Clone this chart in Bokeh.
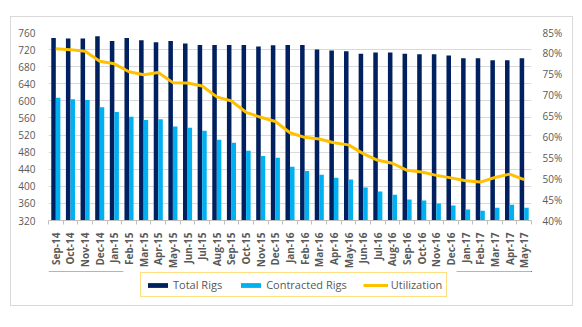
from bokeh.plotting import figure
from bokeh.layouts import column
from bokeh.models import (Range1d, LinearAxis, FixedTicker, NumeralTickFormatter, Grid,
                          ColumnDataSource, Legend, LegendItem)
from bokeh.transform import dodge
from bokeh.embed import file_html
from bokeh.resources import INLINE

months = ["Sep-14", "Oct-14", "Nov-14", "Dec-14", "Jan-15", "Feb-15", "Mar-15", "Apr-15",
          "May-15", "Jun-15", "Jul-15", "Aug-15", "Sep-15", "Oct-15", "Nov-15", "Dec-15",
          "Jan-16", "Feb-16", "Mar-16", "Apr-16", "May-16", "Jun-16", "Jul-16", "Aug-16",
          "Sep-16", "Oct-16", "Nov-16", "Dec-16", "Jan-17", "Feb-17", "Mar-17", "Apr-17",
          "May-17"]
total_rigs = [747, 746, 746, 751, 740, 747, 742, 737, 740, 734, 731, 731, 731, 731, 727, 730,
              731, 731, 720, 718, 716, 710, 713, 713, 710, 709, 709, 706, 700, 700, 695, 695, 700]
contracted_rigs = [607, 604, 602, 585, 574, 563, 555, 557, 540, 537, 530, 509, 502, 483, 471, 467,
                   446, 436, 427, 420, 416, 397, 388, 380, 369, 367, 360, 355, 346, 343, 350, 357, 350]
utilization = [81.1, 80.9, 80.5, 78.1, 77.5, 75.6, 74.9, 75.4, 73.0, 72.9, 72.2, 69.6, 68.6,
               65.9, 64.7, 63.7, 61.0, 59.9, 59.5, 58.6, 58.1, 56.0, 54.4, 53.7, 52.0, 51.6,
               50.8, 50.2, 49.5, 49.2, 50.3, 51.1, 49.8]
series_names = ["Total Rigs", "Contracted Rigs", "Utilization"]
left_ticks = [320, 360, 400, 440, 480, 520, 560, 600, 640, 680, 720, 760]
right_ticks = [0.40, 0.45, 0.50, 0.55, 0.60, 0.65, 0.70, 0.75, 0.80, 0.85]

n = len(months)
idx = list(range(n))
src = ColumnDataSource(dict(
    x=idx,
    total=total_rigs,
    contracted=contracted_rigs,
    util=[u / 100 for u in utilization],
))

FONT = "Open Sans"
GREY = "#595959"
NAVY = "#002060"
CYAN = "#00B0F0"
GOLD = "#FFC000"

p = figure(width=561, height=254, output_backend="svg", toolbar_location=None,
           x_range=Range1d(-0.5, n - 0.5), y_range=Range1d(320, 760),
           min_border_left=37, min_border_right=41, min_border_top=15, min_border_bottom=50,
           x_axis_type=None, y_axis_type=None)
p.outline_line_color = None
p.background_fill_color = "white"
p.border_fill_color = "white"
p.extra_y_ranges = {"util": Range1d(0.40, 0.85)}

# left axis
yl = LinearAxis(ticker=FixedTicker(ticks=left_ticks, minor_ticks=[]))
yl.axis_line_color = None
yl.major_tick_line_color = None
yl.minor_tick_line_color = None
yl.major_tick_out = 0
yl.minor_tick_out = 0
yl.major_label_standoff = 13
yl.major_label_text_font = FONT
yl.major_label_text_font_size = "10px"
yl.major_label_text_color = GREY
p.add_layout(yl, "left")

# right axis
yr = LinearAxis(y_range_name="util", ticker=FixedTicker(ticks=right_ticks, minor_ticks=[]),
                formatter=NumeralTickFormatter(format="0%"))
yr.axis_line_color = None
yr.major_tick_line_color = None
yr.minor_tick_line_color = None
yr.major_tick_out = 0
yr.minor_tick_out = 0
yr.major_label_standoff = 11
yr.major_label_text_font = FONT
yr.major_label_text_font_size = "10px"
yr.major_label_text_color = GREY
p.add_layout(yr, "right")

# bottom axis
xa = LinearAxis(ticker=FixedTicker(ticks=idx, minor_ticks=[i - 0.5 for i in range(n + 1)]))
xa.major_label_overrides = {i: m for i, m in enumerate(months)}
xa.major_label_orientation = 3.14159265 / 2
xa.axis_line_color = "#BFBFBF"
xa.major_tick_line_color = None
xa.major_tick_out = 0
xa.minor_tick_line_color = "#BFBFBF"
xa.minor_tick_out = 4
xa.minor_tick_in = 0
xa.major_label_standoff = 8
xa.major_label_text_font = FONT
xa.major_label_text_font_style = "bold"
xa.major_label_text_font_size = "10px"
xa.major_label_text_color = GREY
p.add_layout(xa, "below")

g = Grid(dimension=1, ticker=FixedTicker(ticks=left_ticks), grid_line_color="#D9D9D9",
         grid_line_width=1)
p.add_layout(g)

bw = 0.31
r_total = p.vbar(x=dodge("x", -0.155), top="total", bottom=320, width=bw, source=src,
                 color=NAVY, line_color=None)
r_con = p.vbar(x=dodge("x", 0.155), top="contracted", bottom=320, width=bw, source=src,
               color=CYAN, line_color=None)
r_util = p.line(x="x", y="util", source=src, y_range_name="util", line_color=GOLD,
                line_width=3, line_join="round")

# legend strip below the chart: same series and styles, drawn out of its visible range
lg = figure(width=561, height=34, output_backend="svg", toolbar_location=None,
            x_range=Range1d(0, 1), y_range=Range1d(-2, -1),
            min_border_left=0, min_border_right=0, min_border_top=0, min_border_bottom=0,
            x_axis_type=None, y_axis_type=None)
lg.outline_line_color = None
lg.grid.visible = False
lg.background_fill_color = "white"
lg.border_fill_color = "white"
l_total = lg.vbar(x="x", top="total", bottom=320, width=bw, source=src, color=NAVY,
                  line_color=None)
l_con = lg.vbar(x="x", top="contracted", bottom=320, width=bw, source=src, color=CYAN,
                line_color=None)
l_util = lg.line(x="x", y="util", source=src, line_color=GOLD, line_width=3)

legend = Legend(items=[LegendItem(label=series_names[0], renderers=[l_total]),
                       LegendItem(label=series_names[1], renderers=[l_con]),
                       LegendItem(label=series_names[2], renderers=[l_util])],
                orientation="horizontal", location=(92, 8))
legend.glyph_width = 25
legend.glyph_height = 6
legend.label_height = 6
legend.label_standoff = 3
legend.spacing = 16
legend.padding = 4
legend.margin = 0
legend.border_line_color = GOLD
legend.border_line_width = 1.3
legend.background_fill_color = "white"
legend.label_text_font = FONT
legend.label_text_font_size = "11px"
legend.label_text_color = GREY
lg.add_layout(legend, "center")

root = column(p, lg, spacing=0, margin=(17, 0, 0, 11),
              styles={"outline": "1px solid #D9D9D9"})

open("out.html", "w").write(file_html(root, INLINE))
